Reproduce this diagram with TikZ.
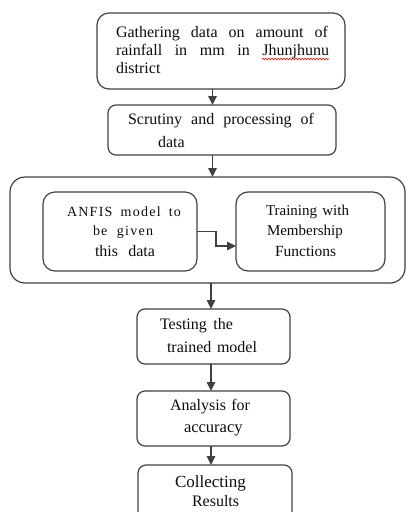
\documentclass[tikz,border=0pt]{standalone}
\usepackage{fontspec}
\setmainfont{Liberation Serif}
\newfontfamily\spacedfont[LetterSpace=9]{Liberation Serif}
\usetikzlibrary{arrows.meta,decorations.pathmorphing}
\definecolor{linec}{gray}{0.25}
\definecolor{textc}{gray}{0.05}
\newcommand\fs[1]{\fontsize{#1}{#1}\selectfont}
\newcommand\sline[2]{\makebox[#1][s]{#2}}
\begin{document}
\begin{tikzpicture}[x=1pt,y=-1pt,
  fbox/.style={draw=linec, line width=1.2pt, inner sep=0pt, outer sep=0pt},
  txt/.style={anchor=base west, inner sep=0pt, outer sep=0pt, text=textc},
  arr/.style={draw=linec, line width=1.2pt, -{Triangle[length=9pt,width=8.5pt]}}]
\useasboundingbox (0,0) rectangle (407,512);
\clip (0,0) rectangle (407,512);
% boxes
\node[fbox, rounded corners=12pt, minimum width=248pt, minimum height=76pt] (b1) at (221,51) {};
\node[fbox, rounded corners=8pt, minimum width=228pt, minimum height=50pt] (b2) at (222,130) {};
\node[fbox, rounded corners=15pt, minimum width=395pt, minimum height=106pt] (big) at (207.5,230) {};
\node[fbox, rounded corners=12pt, minimum width=154pt, minimum height=79pt] (in1) at (120,231.5) {};
\node[fbox, rounded corners=12pt, minimum width=149pt, minimum height=79pt] (in2) at (310.5,231.5) {};
\node[fbox, rounded corners=8pt, minimum width=153pt, minimum height=55pt] (b3) at (213.5,336.5) {};
\node[fbox, rounded corners=8pt, minimum width=153pt, minimum height=55pt] (b4) at (213.5,418.5) {};
\node[fbox, rounded corners=8pt, minimum width=154pt, minimum height=55pt] (b5) at (215,492.5) {};
% texts
\node[txt] (t1a) at (116,37) {\fs{16}\sline{212pt}{Gathering data on amount of}};
\node[txt] (t1b) at (116,55) {\fs{16}\sline{213pt}{rainfall in mm in Jhunjhunu}};
\node[txt] (t1c) at (116,73) {\fs{16}district};
\draw[red, line width=0.6pt, decorate, decoration={snake, amplitude=0.8pt, segment length=3pt}] (262,59) -- (329,59);
\node[txt] (t2a) at (128,124) {\fs{16}\sline{186pt}{Scrutiny and processing of}};
\node[txt] (t2b) at (158,147) {\fs{16}data};
\node[txt] (t3a) at (67,216) {\fs{14}\spacedfont\sline{114pt}{ANFIS model to}};
\node[txt] (t3b) at (93,235) {\fs{14}\spacedfont\sline{60pt}{be given}};
\node[txt] (t3c) at (95,256) {\fs{16}\sline{60pt}{this data}};
\node[txt] (t4a) at (266,215) {\fs{15}\sline{83pt}{Training with}};
\node[txt] (t4b) at (267,235) {\fs{15}Membership};
\node[txt] (t4c) at (275,256) {\fs{15.5}Functions};
\node[txt] (t5a) at (160,329) {\fs{16}\sline{73pt}{Testing the}};
\node[txt] (t5b) at (167,352) {\fs{16}\sline{90pt}{trained model}};
\node[txt] (t6a) at (170,410) {\fs{16}\sline{80pt}{Analysis for}};
\node[txt] (t6b) at (184,432) {\fs{16.5}accuracy};
\node[txt] (t7a) at (175,487) {\fs{17}Collecting};
\node[txt] (t7b) at (192,506) {\fs{16}Results};
% connectors
\coordinate (ax) at (212.5,0);
\coordinate (bx) at (211,0);
\coordinate (e1) at (216,246);
\draw[arr] (b1.south -| ax) -- (b2.north -| ax);
\draw[arr] (b2.south -| ax) -- (big.north -| ax);
\draw[arr] (big.south -| bx) -- (b3.north -| bx);
\draw[arr] (b3.south -| bx) -- (b4.north -| bx);
\draw[arr] (b4.south -| bx) -- (b5.north -| bx);
\draw[arr] (in1.east) -| (e1) -- (e1 -| in2.west);
\end{tikzpicture}
\end{document}
